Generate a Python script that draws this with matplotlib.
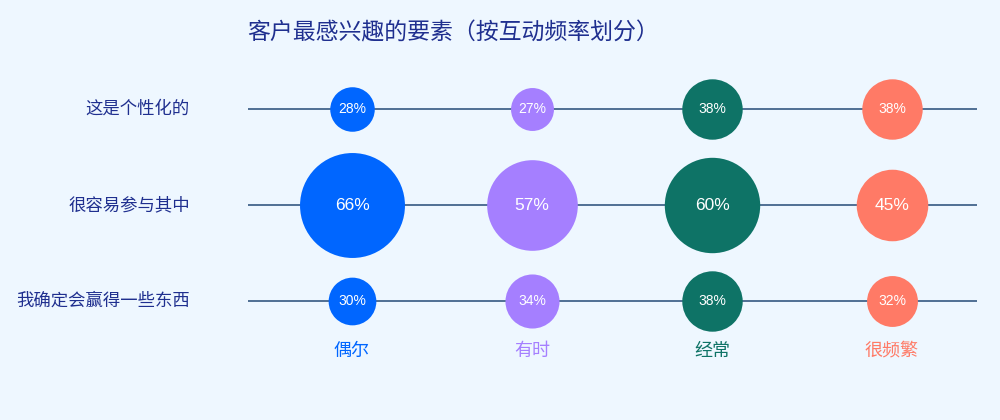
import matplotlib.pyplot as plt

plt.rcParams['font.family'] = ['Noto Sans CJK SC', 'DejaVu Sans']

# data
rows = ['这是个性化的', '很容易参与其中', '我确定会赢得一些东西']
freqs = ['偶尔', '有时', '经常', '很频繁']
values = [
    [28, 27, 38, 38],
    [66, 57, 60, 45],
    [30, 34, 38, 32],
]
colors = ['#0066FF', '#A57FFF', '#0E7366', '#FF7A66']
title = '客户最感兴趣的要素（按互动频率划分）'

bg = '#EEF7FF'
fig = plt.figure(figsize=(10, 4.2), dpi=100, facecolor=bg)
ax = fig.add_axes([0, 0, 1, 1])
ax.set_facecolor(bg)

# about 180 px between columns, 96 px between rows
x0, dx = 352, 180
ax.set_xlim(-x0 / dx, (1000 - x0) / dx)
ax.set_ylim(311 / 96, -109 / 96)
ax.axis('off')

for i, row in enumerate(rows):
    ax.hlines(i, (248 - x0) / dx, (977 - x0) / dx, color='#4F6F94', lw=1.4, zorder=1)
    ax.text((190 - x0) / dx, i, row, ha='right', va='center', fontsize=12.5,
            color='#1F2F8F')
    for j, v in enumerate(values[i]):
        d = 1.59 * v * 0.72  # diameter in points
        ax.scatter(j, i, s=d ** 2, color=colors[j], zorder=2, linewidths=0)
        fs = 12.5 if v > 40 else 10
        ax.text(j, i, f'{v}%', ha='center', va='center', fontsize=fs,
                color='white', zorder=3, family='Liberation Sans')

for j, f in enumerate(freqs):
    ax.text(j, 2.52, f, ha='center', va='center', fontsize=13, color=colors[j])

fig.text(0.453, 1 - 33 / 420, title, ha='center', va='center',
         fontsize=16.5, color='#1F2F8F')

fig.savefig('out.png', dpi=100, facecolor=bg)
